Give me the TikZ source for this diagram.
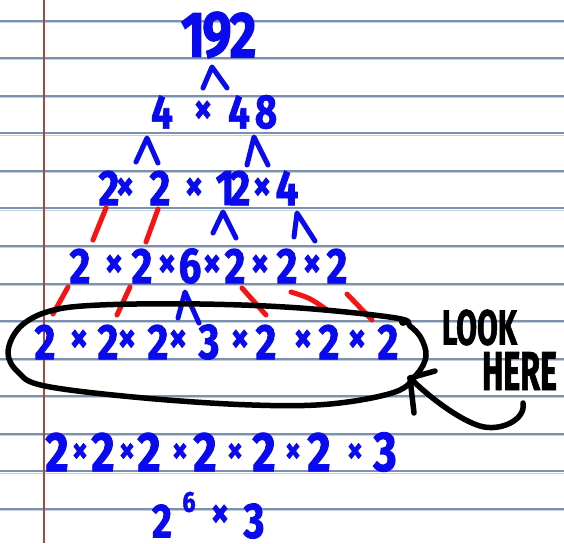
\documentclass[tikz,border=0pt]{standalone}
\usepackage{fontspec}
\newfontfamily\handfont[FakeStretch=0.8, FakeBold=1.5]{Fira Sans}
\definecolor{inkblue}{RGB}{10,10,240}
\definecolor{inkred}{RGB}{245,20,20}
\definecolor{rulecol}{RGB}{122,146,176}
\definecolor{rulelight}{RGB}{200,206,214}
\definecolor{margincol}{RGB}{165,72,62}
\begin{document}
\begin{tikzpicture}[x=1pt, y=-1pt,
  digit/.style={text=inkblue, inner sep=0pt, font=\handfont\bfseries\fontsize{#1}{#1}\selectfont},
  digit/.default=50,
  times/.style={text=inkblue, inner sep=0pt, font=\handfont\bfseries\fontsize{#1}{#1}\selectfont},
  times/.default=44,
  caret/.style={draw=inkblue, line width=5pt, line cap=round, line join=round},
  redmark/.style={draw=inkred, line width=5pt, line cap=round},
  ring/.style={draw=black, line width=5.5pt, line cap=round, line join=round},
  note/.style={text=black, inner sep=0pt, font=\handfont\bfseries\fontsize{50}{50}\selectfont}]
  \fill[white] (0,0) rectangle (564,543);
  \useasboundingbox (0,0) rectangle (564,543);
  \foreach \k in {0,...,13} {
    \draw[rulelight, line width=1pt] (0,{22.4+37.55*\k}) -- (564,{22.4+37.55*\k});
    \draw[rulecol, line width=2pt] (0,{20.7+37.55*\k}) -- (564,{20.7+37.55*\k});
  }
  \draw[margincol, line width=2.3pt] (44.3,0) -- (44.3,543);

  % rows of factors
  \foreach \x/\t [count=\i] in {193/1,217/9,243/2}
    \node[digit=65] (r1d\i) at (\x,35) {\t};
  \foreach \x/\t [count=\i] in {162/4,239/4,266/8}
    \node[digit=48] (r2d\i) at (\x,112) {\t};
  \node[times] (r2t1) at (203,112) {×};
  \foreach \x/\t [count=\i] in {109/2,160/2,225/1,240/2,287/4}
    \node[digit] (r3d\i) at (\x,188) {\t};
  \foreach \x [count=\i] in {125,194,262}
    \node[times] (r3t\i) at (\x,189) {×};
  \foreach \x/\t [count=\i] in {80/2,142/2,190/6,235/2,287/2,337/2}
    \node[digit] (r4d\i) at (\x,266) {\t};
  \foreach \x [count=\i] in {114,167,212,260,312}
    \node[times] (r4t\i) at (\x,266) {×};
  \foreach \x/\t [count=\i] in {45/2,108/2,158/2,209/3,266/2,329/2,388/2}
    \node[digit] (r5d\i) at (\x,342) {\t};
  \foreach \x [count=\i] in {79,127,178,240,303,357}
    \node[times] (r5t\i) at (\x,341) {×};
  \foreach \x/\t [count=\i] in {57/2,103/2,149/2,205/2,264/2,319/2,385/3}
    \node[digit=56] (r6d\i) at (\x,452) {\t};
  \foreach \x [count=\i] in {80,127,180,235,293,355}
    \node[times=38] (r6t\i) at (\x,453) {×};
  \node[digit=48] (r7d1) at (162,521) {2};
  \node[digit=29] (r7d2) at (189,502) {6};
  \node[times] (r7t1) at (220,516) {×};
  \node[digit=50] (r7d3) at (254,521) {3};

  % branches
  \draw[caret] (203,88) -- (212,67) -- (227,88);
  \draw[caret] (136,162) -- (147,138) -- (158,163);
  \draw[caret] (247,165) -- (254,137) -- (268,165);
  \draw[caret] (213,233) -- (223,212) -- (236,238);
  \draw[caret] (294,237) -- (297,213) -- (315,241);
  \draw[caret] (178,318) -- (185,292) -- (199,323);
  \draw[redmark] (106,208) -- (93,240);
  \draw[redmark] (158,209) -- (146,242);
  \draw[redmark] (68,287) -- (53,314);
  \draw[redmark] (130,287) -- (117,315);
  \draw[redmark] (242,288) -- (266,315);
  \draw[redmark] (291,292) .. controls (310,298) .. (327,310);
  \draw[redmark] (347,294) -- (372,320);

  % circled row and note
  \draw[ring] plot[smooth cycle, tension=0.6] coordinates {(396,318) (300,308) (200,304)
    (100,305) (50,311) (20,327) (8,352) (18,372) (45,386) (144,398) (252,405)
    (330,404) (395,392) (417,374) (426,356) (421,338) (410,326)};
  \fill (403,322) circle (4);
  \node[note] (look) at (479.5,327.5) {\resizebox{75pt}{35pt}{LOOK}};
  \node[note] (here) at (519.5,371) {\resizebox{75pt}{38pt}{HERE}};
  \coordinate (tail) at (523,403);
  \coordinate (tip) at (410,378);
  \draw[ring] (tail) .. controls (526,420) and (500,432) .. (480,426)
    .. controls (460,420) and (430,398) .. (tip);
  \draw[ring] (tip) -- (414,413);
  \draw[ring] (tip) -- (435,371);
\end{tikzpicture}
\end{document}
